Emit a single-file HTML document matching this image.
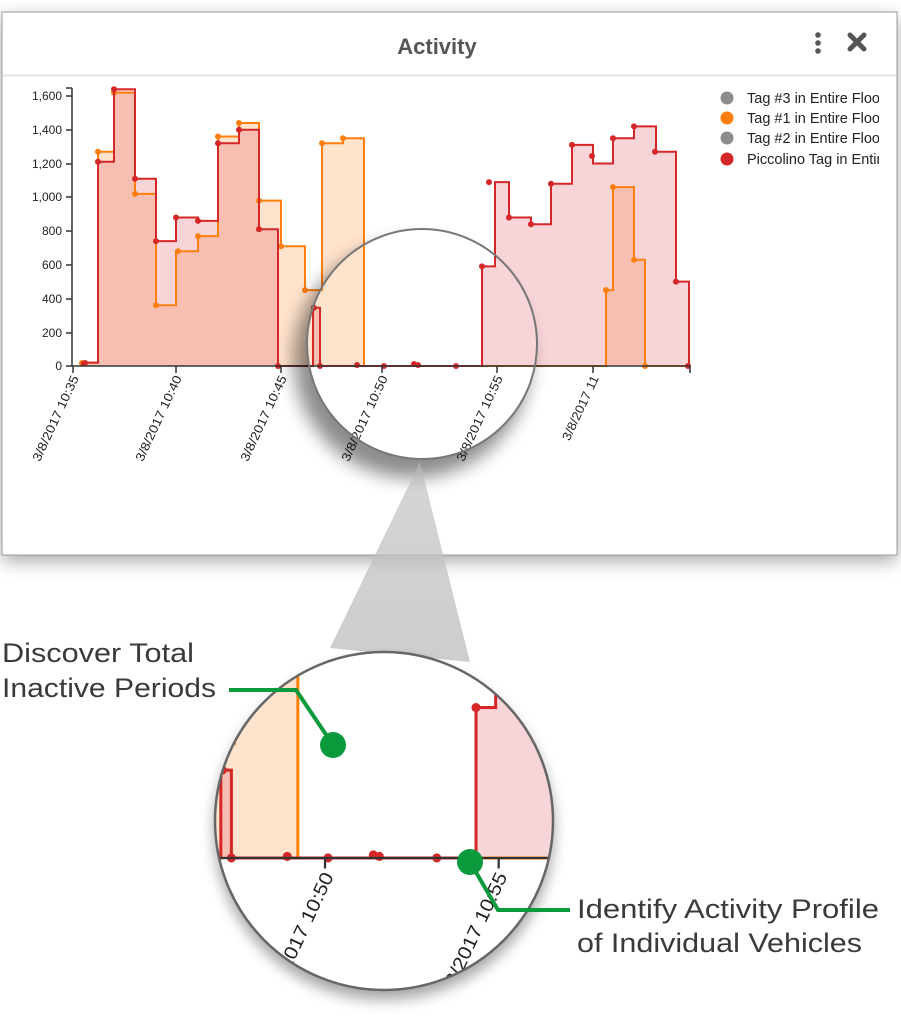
<!DOCTYPE html>
<html><head><meta charset="utf-8"><style>
html,body{margin:0;padding:0;background:#fff;}
svg{display:block;}
text{font-family:"Liberation Sans",sans-serif;}
</style></head><body>
<svg width="901" height="1027" viewBox="0 0 901 1027" xmlns="http://www.w3.org/2000/svg">
<defs>
<filter id="blur8" x="-50%" y="-50%" width="200%" height="200%"><feGaussianBlur stdDeviation="9"/></filter>
<filter id="blur6" x="-50%" y="-50%" width="200%" height="200%"><feGaussianBlur stdDeviation="7"/></filter>
<mask id="outTop"><rect width="901" height="1027" fill="#fff"/><circle cx="422" cy="344" r="115" fill="#000"/></mask>
<mask id="outBot"><rect width="901" height="1027" fill="#fff"/><circle cx="384" cy="821" r="169" fill="#000"/></mask>
<clipPath id="clipBot"><circle cx="384" cy="821" r="169"/></clipPath>
<linearGradient id="cone" x1="0" y1="0" x2="0" y2="1"><stop offset="0" stop-color="#bbb" stop-opacity="0.6"/><stop offset="1" stop-color="#c8c8c8" stop-opacity="0.9"/></linearGradient>
</defs>

<rect x="2" y="12" width="895" height="543" fill="#000" opacity="0.35" filter="url(#blur8)" transform="translate(0,6)"/>
<rect x="2" y="12" width="895" height="543" fill="#fff" stroke="#999" stroke-width="1"/>
<line x1="3" y1="75.5" x2="896" y2="75.5" stroke="#e6e6e6" stroke-width="2"/>
<text x="437" y="54" font-size="22" font-weight="bold" fill="#555" text-anchor="middle">Activity</text>
<circle cx="818" cy="35" r="2.8" fill="#555"/><circle cx="818" cy="43" r="2.8" fill="#555"/><circle cx="818" cy="51" r="2.8" fill="#555"/>
<path d="M850 35 L864 49 M864 35 L850 49" stroke="#555" stroke-width="5" stroke-linecap="round"/>

<circle cx="727" cy="98" r="6.5" fill="#8c8c8c"/>
<circle cx="727" cy="118" r="6.5" fill="#ff7f0e"/>
<circle cx="727" cy="138" r="6.5" fill="#8c8c8c"/>
<circle cx="727" cy="159" r="6.5" fill="#d62728"/>
<svg x="747" y="85" width="132" height="85">
<text x="0" y="18" font-size="14.5" fill="#222">Tag #3 in Entire Floor</text>
<text x="0" y="38" font-size="14.5" fill="#222">Tag #1 in Entire Floor</text>
<text x="0" y="58" font-size="14.5" fill="#222">Tag #2 in Entire Floor</text>
<text x="0" y="79" font-size="14.5" fill="#222">Piccolino Tag in Entire Floor</text>
</svg>

<g id="chart">
<path d="M82,366 V362.6 H98 V151.7 H114 V92.6 H135 V193.9 H156 V305.25 H176 V251.25 H198 V236.1 H218 V136.5 H239 V123 H259 V200.6 H281 V246.2 H305 V290.1 H322 V143.25 H343 V138.2 H364 V366 H606 V290.1 H613 V187.1 H634 V259.7 H645 V366 Z" fill="#ffa35a" fill-opacity="0.3"/>
<path d="M82,366 V362.6 H98 V161.8 H114 V89.3 H135 V178.7 H156 V241.1 H176 V217.5 H198 V220.9 H218 V143.3 H239 V129.75 H259 V229.3 H278 V366 H313 V307.8 H320 V366 H482 V266.4 H495 V182.1 H509 V217.5 H531 V224.25 H551 V183.75 H572 V144.9 H593 V163.5 H613 V138.2 H634 V126.4 H656 V151.7 H676 V281.6 H689 V366 Z" fill="#e05a66" fill-opacity="0.26"/>
<path d="M82,366 V362.6 H98 V151.7 H114 V92.6 H135 V193.9 H156 V305.25 H176 V251.25 H198 V236.1 H218 V136.5 H239 V123 H259 V200.6 H281 V246.2 H305 V290.1 H322 V143.25 H343 V138.2 H364 V366 H606 V290.1 H613 V187.1 H634 V259.7 H645 V366 H689" fill="none" stroke="#ff7f0e" stroke-width="2"/>
<g fill="#ff7f0e">
<circle cx="82" cy="363" r="3"/><circle cx="98" cy="151.7" r="3"/><circle cx="114" cy="92.6" r="3"/><circle cx="135" cy="193.9" r="3"/><circle cx="156" cy="305.25" r="3"/><circle cx="178" cy="251.25" r="3"/><circle cx="198" cy="236.1" r="3"/><circle cx="218" cy="136.5" r="3"/><circle cx="239" cy="123" r="3"/><circle cx="259" cy="200.6" r="3"/><circle cx="281" cy="246.2" r="3"/><circle cx="305" cy="290.1" r="3"/><circle cx="322" cy="143.25" r="3"/><circle cx="343" cy="138.2" r="3"/><circle cx="606" cy="290.1" r="3"/><circle cx="613" cy="187.1" r="3"/><circle cx="634" cy="259.7" r="3"/><circle cx="645" cy="366" r="3"/>
</g>
<path d="M82,366 V362.6 H98 V161.8 H114 V89.3 H135 V178.7 H156 V241.1 H176 V217.5 H198 V220.9 H218 V143.3 H239 V129.75 H259 V229.3 H278 V366 H313 V307.8 H320 V366 H482 V266.4 H495 V182.1 H509 V217.5 H531 V224.25 H551 V183.75 H572 V144.9 H593 V163.5 H613 V138.2 H634 V126.4 H656 V151.7 H676 V281.6 H689 V366" fill="none" stroke="#d62728" stroke-width="2"/>
<g fill="#d62728">
<circle cx="85" cy="363" r="3"/><circle cx="98" cy="161.8" r="3"/><circle cx="114" cy="89.3" r="3"/><circle cx="135" cy="178.7" r="3"/><circle cx="156" cy="241.1" r="3"/><circle cx="176" cy="217.5" r="3"/><circle cx="198" cy="220.9" r="3"/><circle cx="218" cy="143.3" r="3"/><circle cx="239" cy="129.75" r="3"/><circle cx="259" cy="229.3" r="3"/><circle cx="278" cy="366" r="3"/><circle cx="314" cy="307.8" r="3"/><circle cx="320" cy="366" r="3"/><circle cx="357" cy="365" r="3"/><circle cx="384" cy="366" r="3"/><circle cx="414" cy="364" r="3"/><circle cx="418" cy="365" r="3"/><circle cx="456" cy="366" r="3"/><circle cx="482" cy="266.4" r="3"/><circle cx="489" cy="182.1" r="3"/><circle cx="509" cy="217.5" r="3"/><circle cx="531" cy="224.25" r="3"/><circle cx="551" cy="183.75" r="3"/><circle cx="572" cy="144.9" r="3"/><circle cx="592" cy="156" r="3"/><circle cx="613" cy="138.2" r="3"/><circle cx="634" cy="126.4" r="3"/><circle cx="655" cy="151.7" r="3"/><circle cx="676" cy="281.6" r="3"/><circle cx="688" cy="366" r="3"/>
</g>
<g stroke="#333" stroke-width="1.5" fill="none">
<path d="M72,88 V366 H690"/>
<path d="M66,88 H72 M66,96 H72 M66,130 H72 M66,164 H72 M66,197 H72 M66,231 H72 M66,265 H72 M66,299 H72 M66,333 H72 M66,366 H72"/>
<path d="M73,366 V373 M176,366 V373 M281,366 V373 M382,366 V373 M497,366 V373 M593,366 V373 M690,366 V373"/>
</g>
<g font-size="12" fill="#222" text-anchor="end">
<text x="62" y="100">1,600</text><text x="62" y="134">1,400</text><text x="62" y="168">1,200</text><text x="62" y="201">1,000</text><text x="62" y="235">800</text><text x="62" y="269">600</text><text x="62" y="303">400</text><text x="62" y="337">200</text><text x="62" y="370">0</text>
</g>
<g font-size="12.5" fill="#222" text-anchor="end">
<text transform="translate(79,378) rotate(-65)" textLength="93" lengthAdjust="spacingAndGlyphs">3/8/2017 10:35</text>
<text transform="translate(182,378) rotate(-65)" textLength="93" lengthAdjust="spacingAndGlyphs">3/8/2017 10:40</text>
<text transform="translate(287,378) rotate(-65)" textLength="93" lengthAdjust="spacingAndGlyphs">3/8/2017 10:45</text>
<text transform="translate(388,378) rotate(-65)" textLength="93" lengthAdjust="spacingAndGlyphs">3/8/2017 10:50</text>
<text transform="translate(503,378) rotate(-65)" textLength="93" lengthAdjust="spacingAndGlyphs">3/8/2017 10:55</text>
<text transform="translate(599,378) rotate(-65)" textLength="70" lengthAdjust="spacingAndGlyphs">3/8/2017 11</text>
</g>
</g>

<g mask="url(#outTop)"><circle cx="412" cy="360" r="118" fill="#000" opacity="0.45" filter="url(#blur8)"/></g>
<circle cx="422" cy="344" r="115" fill="none" stroke="#777" stroke-width="2"/>

<polygon points="420,462 330,648 470,662" fill="url(#cone)"/>

<g mask="url(#outBot)"><circle cx="384" cy="830" r="170" fill="#000" opacity="0.35" filter="url(#blur6)"/></g>
<circle cx="384" cy="821" r="169" fill="#fff"/>
<g clip-path="url(#clipBot)">
<use href="#chart" transform="matrix(1.51,0,0,1.51,-251.8,305.3)"/>
</g>
<circle cx="384" cy="821" r="169" fill="none" stroke="#666" stroke-width="2.5"/>

<polyline points="229,690 296,690 333,745" fill="none" stroke="#0a9a3c" stroke-width="4"/>
<circle cx="333" cy="745" r="13" fill="#0a9a3c"/>
<polyline points="470,862 498,910 570,910" fill="none" stroke="#0a9a3c" stroke-width="4"/>
<circle cx="470" cy="862" r="13" fill="#0a9a3c"/>
<g font-size="27" fill="#3a3a3a">
<text x="2" y="662" textLength="192" lengthAdjust="spacingAndGlyphs">Discover Total</text>
<text x="2" y="697" textLength="214" lengthAdjust="spacingAndGlyphs">Inactive Periods</text>
<text x="577" y="918" textLength="302" lengthAdjust="spacingAndGlyphs">Identify Activity Profile</text>
<text x="577" y="952" textLength="285" lengthAdjust="spacingAndGlyphs">of Individual Vehicles</text>
</g>
</svg>
</body></html>
